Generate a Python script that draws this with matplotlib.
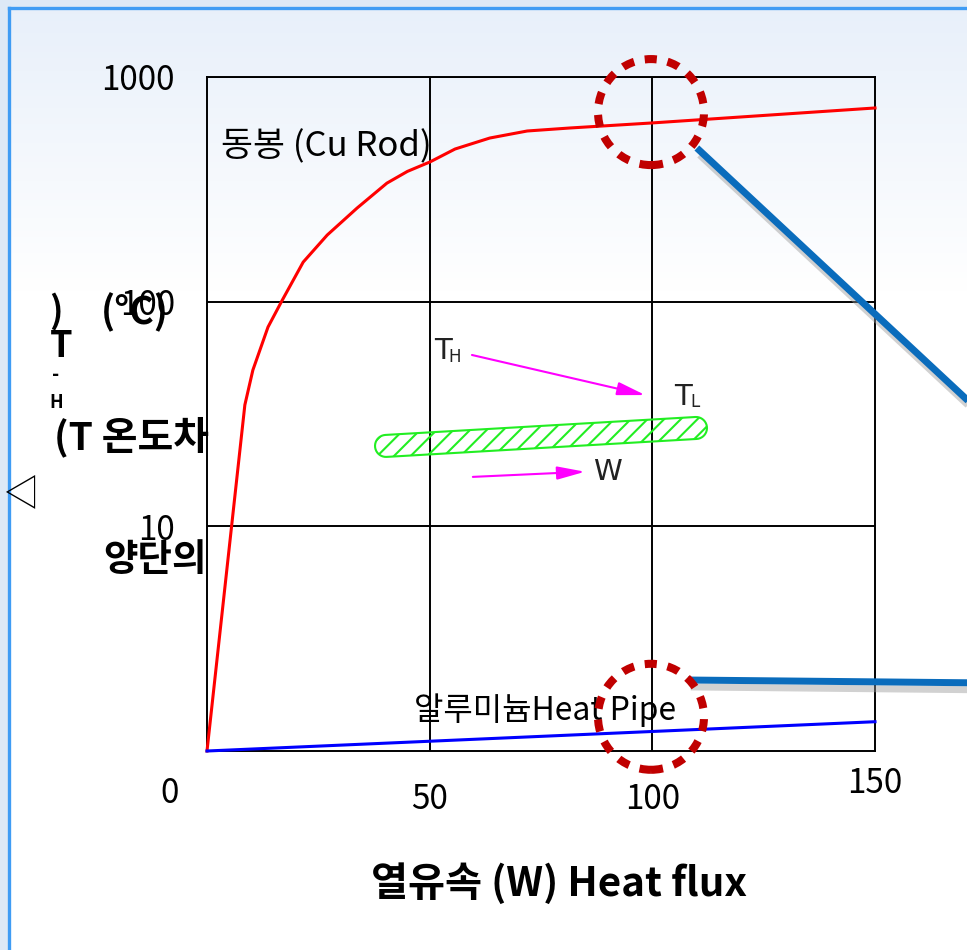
import numpy as np
import matplotlib
matplotlib.use("Agg")
import matplotlib.pyplot as plt
from matplotlib.patches import Polygon, Circle
from matplotlib import transforms
import matplotlib.patheffects as pe

plt.rcParams['font.family'] = ['Noto Sans CJK KR', 'DejaVu Sans']
plt.rcParams['hatch.linewidth'] = 1.5

# ---------------- data ----------------
cu_x = [0, 8.5, 10.3, 13.7, 16.8, 21.6, 27.0, 33.7, 40.4, 45.0, 50.1, 55.7, 63.5, 71.9, 81.5, 99.7, 150]
cu_y = [1, 34.7, 49.6, 77.1, 100.7, 150, 198, 261, 337, 380, 419, 478, 535, 575, 593, 624, 728]
hp_x = [0, 150]
hp_y = [1, 1.35]

x_ticks = [50, 100]
y_ticks = [10, 100, 1000]
y_ticklabels = ['10', '100', '1000']

# hatched heat pipe band (end centres, data units)
band_x = [40.2, 109.8]
band_y = [22.8, 27.4]

# callouts
circle_x = [99.7, 99.7]
circle_y = [698, 1.42]
call1_x = [110.0, 173.6]
call1_y = [483, 32.3]
call2_x = [108.0, 173.6]
call2_y = [2.07, 2.01]

W, H = 967, 950
fig = plt.figure(figsize=(W / 100, H / 100), dpi=100)
fig.patch.set_facecolor('#dde9f6')

# background gradient inside the slide frame
bg = fig.add_axes([9 / W, 0, 1 - 9 / W, 1 - 8 / H])
bg.set_axis_off()
rows = np.linspace(0, 1, 300)
grad = np.clip(rows / 0.3, 0, 1)
top = np.array([0.91, 0.94, 0.98])
img = top[None, :] * (1 - grad[:, None]) + np.ones(3)[None, :] * grad[:, None]
bg.imshow(img[:, None, :], aspect='auto', extent=[0, 1, 0, 1])
fig.add_artist(plt.Line2D([9 / W, 9 / W], [0, 1 - 8 / H], color='#3f9cf4', lw=2.4))
fig.add_artist(plt.Line2D([9 / W, 1], [1 - 8 / H, 1 - 8 / H], color='#3f9cf4', lw=2.4))

ax = fig.add_axes([207 / W, 1 - 751 / H, (875 - 207) / W, (751 - 77) / H])
ax.set_facecolor('none')
ax.set_yscale('log')
ax.set_xlim(0, 150)
ax.set_ylim(1, 1000)
for s in ax.spines.values():
    s.set_linewidth(1.4)
ax.set_xticks(x_ticks)
ax.set_xticklabels([str(v) for v in x_ticks])
ax.set_yticks(y_ticks)
ax.set_yticklabels(y_ticklabels)
ax.minorticks_off()
ax.tick_params(length=0, labelsize=24)
ax.tick_params(axis='x', pad=22)
ax.tick_params(axis='y', pad=23)
ax.grid(True, color='black', lw=1.4)

ax.plot(cu_x, cu_y, color='#ff0000', lw=2.2, clip_on=False, zorder=3)
ax.plot(hp_x, hp_y, color='#0000ff', lw=2.2, clip_on=False, zorder=3)

ax.text(150, 0.72, '150', fontsize=24, ha='center', va='center', clip_on=False)
ax.text(-8.3, 0.65, '0', fontsize=24, ha='center', va='center', clip_on=False)

ax.text(26.7, 488, '동봉 (Cu Rod)', fontsize=25, ha='center', va='center')
ax.text(75.9, 1.52, '알루미늄Heat Pipe', fontsize=23, ha='center', va='center')

# hatched band, built as a stadium in screen space
p1 = ax.transData.transform((band_x[0], band_y[0]))
p2 = ax.transData.transform((band_x[1], band_y[1]))
d = (p2 - p1) / np.hypot(*(p2 - p1))
ang = np.arctan2(d[1], d[0])
r = 11
a1 = np.linspace(ang - np.pi / 2, ang + np.pi / 2, 20)
a2 = np.linspace(ang + np.pi / 2, ang + 3 * np.pi / 2, 20)
pts = np.vstack([p2 + r * np.c_[np.cos(a1), np.sin(a1)],
                 p1 + r * np.c_[np.cos(a2), np.sin(a2)]])
pts = ax.transData.inverted().transform(pts)
ax.add_patch(Polygon(pts, closed=True, facecolor='none', edgecolor='#22ee22',
                     hatch='//', lw=1.5, zorder=4))

# arrows and labels
arrow = dict(arrowstyle='-|>,head_length=0.85,head_width=0.2', color='#ff00ff',
             lw=1.5, mutation_scale=20, shrinkA=0, shrinkB=0)
ax.annotate('', xy=(98.4, 38.4), xytext=(59.5, 57.9), arrowprops=arrow)
ax.annotate('', xy=(84.9, 17.5), xytext=(59.7, 16.6), arrowprops=arrow)
narrow = ['Liberation Sans Narrow', 'DejaVu Sans']
ax.text(53.0, 60.3, 'T', fontsize=21, family=narrow, color='#222222', ha='center', va='center')
ax.text(55.6, 57.0, 'H', fontsize=12, family=narrow, color='#222222', ha='center', va='center')
ax.text(106.9, 37.6, 'T', fontsize=21, family=narrow, color='#222222', ha='center', va='center')
ax.text(109.6, 35.8, 'L', fontsize=12, family=narrow, color='#222222', ha='center', va='center')
ax.text(89.8, 17.5, 'W', fontsize=21, family=narrow, color='#222222', ha='center', va='center')

# dotted red circles
for cx, cy in zip(circle_x, circle_y):
    tr = fig.dpi_scale_trans + transforms.ScaledTranslation(cx, cy, ax.transData)
    ax.add_patch(Circle((0, 0), 0.53, transform=tr, fill=False, edgecolor='#c00000',
                        lw=5.8, linestyle=(0, (1.5, 1.35)), clip_on=False, zorder=6))

# blue callout lines with shadow
shadow = [pe.SimpleLineShadow(offset=(2, -5), shadow_color='#999999', alpha=0.45), pe.Normal()]
for lx, ly in [(call1_x, call1_y), (call2_x, call2_y)]:
    ax.plot(lx, ly, color='#0a6cbc', lw=5, solid_capstyle='butt', clip_on=False,
            zorder=5, path_effects=shadow)

# broken vertical axis label, as it appears
def ft(px, py, s, **kw):
    fig.text(px / W, 1 - py / H, s, ha='center', va='center', **kw)

ft(26, 490, '△', fontsize=26, rotation=90)
ft(56, 312, ')', fontsize=26, weight='bold')
ft(61, 346, 'T', fontsize=26, weight='bold')
ft(56, 374, '-', fontsize=14, weight='bold')
ft(56, 402, 'H', fontsize=13, weight='bold')
ft(131, 437, '(T 온도차', fontsize=28, weight='bold')
ft(135, 312, '(°C)', fontsize=27, weight='bold')
ft(155, 560, '양단의', fontsize=27, weight='bold')

ft(559, 884, '열유속 (W) Heat flux', fontsize=29, weight='bold')

fig.savefig('out.png', dpi=100, facecolor=fig.get_facecolor())
